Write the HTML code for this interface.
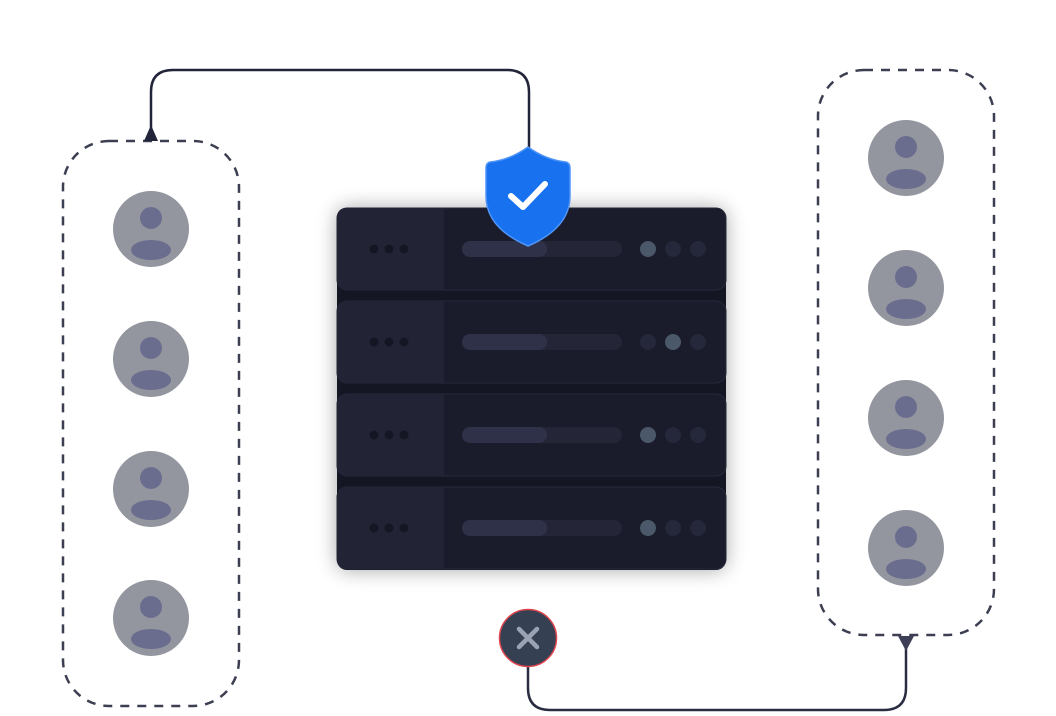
<!DOCTYPE html>
<html><head><meta charset="utf-8"><style>
html,body{margin:0;padding:0;background:#fff;}
svg{display:block;}
</style></head><body>
<svg width="1056" height="716" viewBox="0 0 1056 716" xmlns="http://www.w3.org/2000/svg">
<defs>
<filter id="sh" x="-20%" y="-20%" width="140%" height="140%">
<feGaussianBlur stdDeviation="10"/>
</filter>
<g id="av">
<circle r="38" fill="#93959f"/>
<circle cy="-11" r="11" fill="#6b6d8f"/>
<ellipse cy="21" rx="20" ry="10" fill="#6b6d8f"/>
</g>
</defs>
<!-- dashed groups -->
<rect x="63" y="141" width="176" height="565" rx="46" fill="none" stroke="#3c3f52" stroke-width="2.5" stroke-dasharray="9 8"/>
<rect x="818" y="70" width="176" height="565" rx="46" fill="none" stroke="#3c3f52" stroke-width="2.5" stroke-dasharray="9 8"/>
<!-- avatars -->
<use href="#av" x="151" y="229"/><use href="#av" x="151" y="359"/><use href="#av" x="151" y="489"/><use href="#av" x="151" y="618"/>
<use href="#av" x="906" y="158"/><use href="#av" x="906" y="288"/><use href="#av" x="906" y="418"/><use href="#av" x="906" y="548"/>
<!-- connectors -->
<path d="M529 150 V92 Q529 70 507 70 H173 Q151 70 151 92 V130" fill="none" stroke="#22253a" stroke-width="2.5"/>
<polygon points="151,125 144,141 158,141" fill="#22253a"/>
<path d="M528 667 V688 Q528 710 550 710 H884 Q906 710 906 688 V645" fill="none" stroke="#2a2d42" stroke-width="2.5"/>
<polygon points="898,636 914,636 906,651" fill="#3c3f55"/>
<!-- server -->
<rect x="337" y="208" width="389" height="362" rx="10" fill="#000" opacity="0.35" filter="url(#sh)"/>
<rect x="337" y="208" width="389" height="362" rx="10" fill="#141624"/>
<g id="unit">
<rect x="337" y="208" width="389" height="82" rx="10" fill="#1a1b2b" stroke="#272a3c" stroke-width="1"/>
<path d="M347 208 H444 V290 H347 Q337 290 337 280 V218 Q337 208 347 208Z" fill="#222436"/>
<circle cx="374" cy="249" r="4.5" fill="#151624"/><circle cx="389" cy="249" r="4.5" fill="#151624"/><circle cx="404" cy="249" r="4.5" fill="#151624"/>
<rect x="462" y="241" width="160" height="16" rx="8" fill="#242637"/>
<rect x="462" y="241" width="85" height="16" rx="8" fill="#2f3148"/>
</g>
<use href="#unit" y="93"/><use href="#unit" y="186"/><use href="#unit" y="279"/>
<!-- lights -->
<g>
<circle cx="648" cy="249" r="8" fill="#4b586a"/><circle cx="673" cy="249" r="8" fill="#25283a"/><circle cx="698" cy="249" r="8" fill="#25283a"/>
<circle cx="648" cy="342" r="8" fill="#25283a"/><circle cx="673" cy="342" r="8" fill="#4b586a"/><circle cx="698" cy="342" r="8" fill="#25283a"/>
<circle cx="648" cy="435" r="8" fill="#4b586a"/><circle cx="673" cy="435" r="8" fill="#25283a"/><circle cx="698" cy="435" r="8" fill="#25283a"/>
<circle cx="648" cy="528" r="8" fill="#4b586a"/><circle cx="673" cy="528" r="8" fill="#25283a"/><circle cx="698" cy="528" r="8" fill="#25283a"/>
</g>
<!-- shield -->
<path d="M528 147 Q510 160 490 162 Q486 163 486 168 V196 Q486 228 528 246 Q570 228 570 196 V168 Q570 163 566 162 Q546 160 528 147Z" fill="#1872f0" stroke="#4f94f5" stroke-width="1.5"/>
<path d="M511 196 L523 207 L545 184" fill="none" stroke="#fff" stroke-width="6" stroke-linecap="round" stroke-linejoin="round"/>
<!-- x circle -->
<circle cx="528" cy="638" r="28.5" fill="#354052" stroke="#e0454f" stroke-width="1.5"/>
<path d="M519 629 L537 647 M537 629 L519 647" stroke="#9aa3b2" stroke-width="4.5" stroke-linecap="round"/>
</svg>
</body></html>
